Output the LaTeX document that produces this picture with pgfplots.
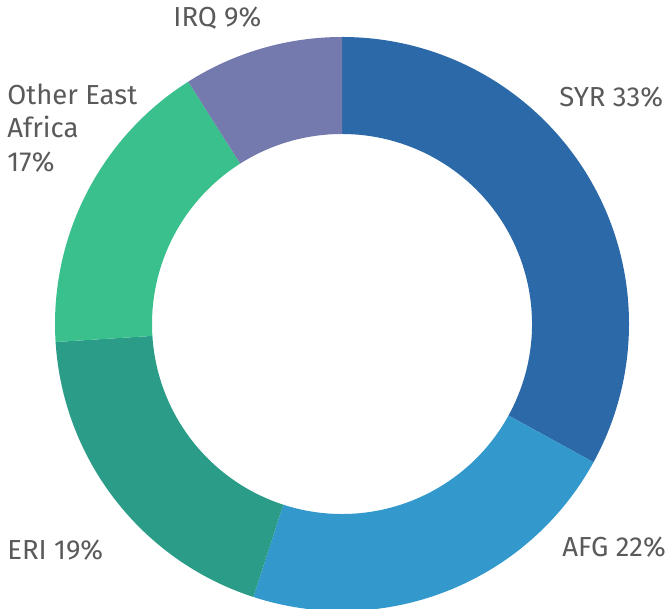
\documentclass[border=0pt]{standalone}
\usepackage{fontspec}
\setmainfont{Fira Sans}
\usepackage{pgfplots}
\usepackage{pgfplotstable}
\pgfplotsset{compat=1.18}
\definecolor{cSYR}{HTML}{2C69A9}
\definecolor{cAFG}{HTML}{3399CC}
\definecolor{cERI}{HTML}{2A9C88}
\definecolor{cOEA}{HTML}{3AC08C}
\definecolor{cIRQ}{HTML}{7479AE}
\definecolor{txt}{HTML}{5A5A5A}
\pgfplotstableread{
label value colour
SYR 33 cSYR
AFG 22 cAFG
ERI 19 cERI
OEA 17 cOEA
IRQ 9 cIRQ
}\donutdata
\begin{document}
\begin{tikzpicture}
\useasboundingbox (0,0) rectangle (334.5pt,304.5pt);
\begin{axis}[at={(0,0)},anchor=south west, scale only axis,
  width=334.5pt, height=304.5pt, xmin=0, xmax=669, ymin=0, ymax=609,
  hide axis, clip=false]
\def\cx{342}\def\cy{285}
\def\cum{0}
\pgfplotsforeachungrouped \i in {0,...,4}{%
 \pgfplotstablegetelem{\i}{value}\of\donutdata \let\val\pgfplotsretval
 \pgfplotstablegetelem{\i}{colour}\of\donutdata \let\col\pgfplotsretval
 \pgfmathsetmacro{\sa}{90-3.6*\cum}
 \pgfmathsetmacro{\ea}{90-3.6*(\cum+\val)}
 \pgfmathsetmacro{\cum}{\cum+\val}
 \pgfmathsetmacro{\xout}{\cx+287*cos(\sa)}
 \pgfmathsetmacro{\yout}{\cy+287*sin(\sa)}
 \pgfmathsetmacro{\xin}{\cx+190*cos(\ea)}
 \pgfmathsetmacro{\yin}{\cy+190*sin(\ea)}
 \edef\slice{\noexpand\fill[\col] (axis cs:\xout,\yout) arc[start angle=\sa,end angle=\ea,radius=143.5pt] -- (axis cs:\xin,\yin) arc[start angle=\ea,end angle=\sa,radius=95pt] -- cycle;}
 \slice
}
\tikzset{lbl/.style={anchor=base west, inner sep=0pt, text=txt, font=\fontsize{13.75pt}{16.5pt}\selectfont}}
\node[lbl] at (axis cs:173,582) {IRQ 9\%};
\node[lbl] at (axis cs:559,502) {SYR 33\%};
\node[lbl] at (axis cs:562,52) {AFG 22\%};
\node[lbl] at (axis cs:7,49) {ERI 19\%};
\node[lbl] at (axis cs:7,504) {Other East};
\node[lbl] at (axis cs:7,471) {Africa};
\node[lbl] at (axis cs:7,437) {17\%};
\end{axis}
\end{tikzpicture}
\end{document}
